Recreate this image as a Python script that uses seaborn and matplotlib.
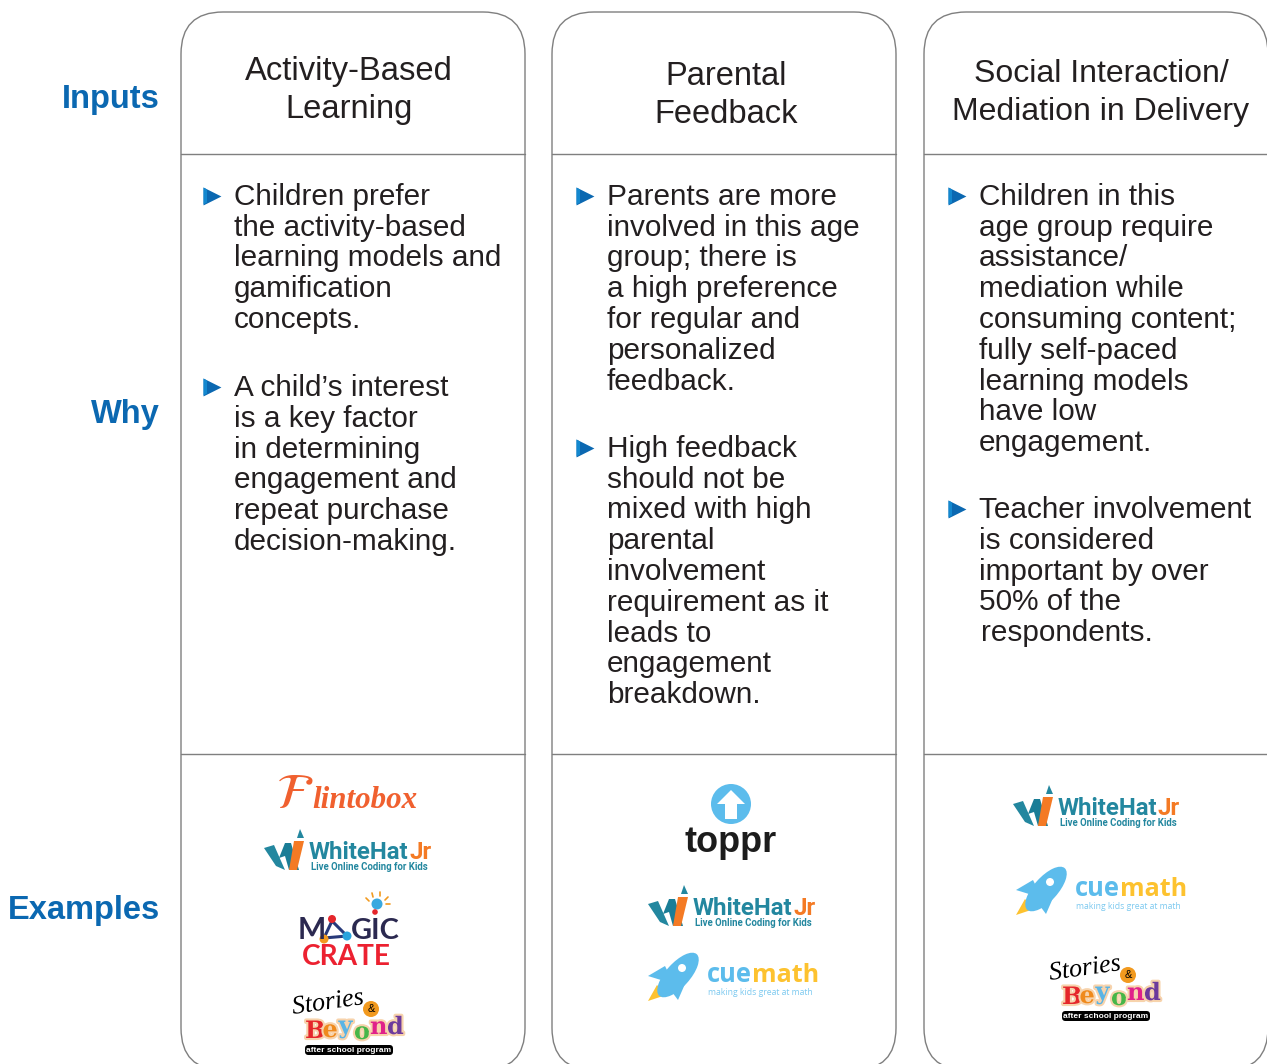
import matplotlib
matplotlib.use('Agg')
import matplotlib.pyplot as plt
import matplotlib.patheffects as pe
from matplotlib.patches import FancyBboxPatch, Polygon, Circle, Ellipse
import pandas as pd
import seaborn as sns

sns.set_theme(style='white')
plt.rcParams['font.family'] = ['Liberation Sans', 'DejaVu Sans']

#Text of the slide
row_labels = ['Inputs', 'Why', 'Examples']
row_label_y = [96, 411, 907]

titles = [['Activity-Based', 'Learning'],
          ['Parental', 'Feedback'],
          ['Social Interaction/', 'Mediation in Delivery']]
title_x = [349, 726, 1101]
title_y = [68, 73, 70]
title_size = [32.8, 32.6, 32]

col1_a = ['Children prefer', 'the activity-based', 'learning models and', 'gamification', 'concepts.']
col1_b = ['A child\u2019s interest', 'is a key factor', 'in determining', 'engagement and', 'repeat purchase', 'decision-making.']
col2_a = ['Parents are more', 'involved in this age', 'group; there is', 'a high preference', 'for regular and', 'personalized', 'feedback.']
col2_b = ['High feedback', 'should not be', 'mixed with high', 'parental', 'involvement', 'requirement as it', 'leads to', 'engagement', 'breakdown.']
col3_a = ['Children in this', 'age group require', 'assistance/', 'mediation while', 'consuming content;', 'fully self-paced', 'learning models', 'have low', 'engagement.']
col3_b = ['Teacher involvement', 'is considered', 'important by over', '50% of the', 'respondents.']

blocks = [col1_a, col1_b, col2_a, col2_b, col3_a, col3_b]
block_x = [234, 234, 607, 607, 979, 979]
block_y = [205, 396, 205, 457, 205, 518]
bullet_x = [212, 212, 585, 585, 957, 957]

panel_x = [181, 552, 924]
BLUE = '#0b68b1'
GREY = '#7f7f7f'
INK = '#231f20'
TEAL = '#23879f'
ORANGE = '#f47a24'
SKY = '#5cbcec'
GOLD = '#fdc22f'

fig = plt.figure(figsize=(12.67, 10.64), dpi=100)
ax = fig.add_axes([0, 0, 1, 1])
ax.set_xlim(0, 1267)
ax.set_ylim(1064, 0)
ax.axis('off')


def px(size):
    return size * 72 / 100


#Panels
for x in panel_x:
    ax.add_patch(FancyBboxPatch((x + 42, 54), 344 - 84, 1070 - 54 - 42, boxstyle='round,pad=42,rounding_size=42',
                                fc='white', ec=GREY, lw=1.0, mutation_aspect=1))
    ax.plot([x, x + 344], [154, 154], color=GREY, lw=1.0)
    ax.plot([x, x + 344], [754, 754], color=GREY, lw=1.0)

#Row labels
for lab, y in zip(row_labels, row_label_y):
    ax.text(160, y, lab, ha='right', va='center_baseline', color=BLUE, fontsize=px(32.7), fontweight='bold')

#Column titles
for lines, x, y, size in zip(titles, title_x, title_y, title_size):
    for i, line in enumerate(lines):
        ax.text(x, y + i * 38.2, line, ha='center', va='center_baseline', color=INK, fontsize=px(size))

#Body text
for lines, x, y in zip(blocks, block_x, block_y):
    for i, line in enumerate(lines):
        ax.text(x + (2 if line == 'respondents.' else 0), y + i * 30.75, line, ha='left', va='baseline',
                color=INK, fontsize=px(29.7))

#Bullets
bullets = pd.DataFrame({'x': bullet_x, 'y': [y - 9 for y in block_y]})
sns.scatterplot(data=bullets, x='x', y='y', marker='>', s=165, color=BLUE, linewidth=0, ax=ax, legend=False)
for x, y in zip(bullet_x, bullets['y']):
    ax.add_patch(Polygon([(x - 8.5, y - 8.5), (x - 5, y - 6.5), (x - 5, y + 6.5), (x - 8.5, y + 8.5)], fc='#1388cf', ec='none', zorder=5))


def whitehat(dx, dy):
    def shape(pts, color):
        ax.add_patch(Polygon([(a + dx, b + dy) for a, b in pts], fc=color, ec='none'))
    shape([(264, 848), (274, 845), (285, 870), (276, 866)], TEAL)
    shape([(279, 858), (285, 843), (291, 843), (299, 870), (289, 870), (285, 856)], '#1a7d96')
    shape([(289, 870), (297, 870), (304, 841), (294, 841)], ORANGE)
    shape([(297, 838), (300, 829), (304, 838)], TEAL)
    ax.text(309 + dx, 859 + dy, 'WhiteHat', color=TEAL, fontsize=px(24), fontweight='bold', fontfamily='Roboto')
    ax.text(409 + dx, 859 + dy, 'Jr', color=ORANGE, fontsize=px(24), fontweight='bold', fontfamily='Roboto')
    ax.text(311 + dx, 870 + dy, 'Live Online Coding for Kids', color=TEAL, fontsize=px(9.6), fontweight='bold', fontfamily='Roboto')


def cuemath(dx, dy):
    ax.add_patch(Polygon([(648 + dx, 1001 + dy), (657 + dx, 985 + dy), (666 + dx, 995 + dy)], fc=GOLD, ec='none'))
    ax.add_patch(Polygon([(648 + dx, 976 + dy), (665 + dx, 966 + dy), (674 + dx, 984 + dy)], fc=SKY, ec='none'))
    ax.add_patch(Polygon([(678 + dx, 1000 + dy), (685 + dx, 984 + dy), (666 + dx, 984 + dy)], fc=SKY, ec='none'))
    ax.add_patch(Ellipse((678 + dx, 975 + dy), 56, 24, angle=-48, fc=SKY, ec='none'))
    ax.add_patch(Circle((682 + dx, 968 + dy), 4, fc='white', ec='none'))
    ax.text(707 + dx, 982 + dy, 'cue', color=SKY, fontsize=px(25.5), fontweight='bold', fontfamily='Open Sans')
    ax.text(752 + dx, 982 + dy, 'math', color=GOLD, fontsize=px(25), fontweight='bold', fontfamily='Open Sans')
    ax.text(708 + dx, 995 + dy, 'making kids great at math', color=SKY, fontsize=px(8.7), alpha=0.8, fontfamily='Open Sans')


def stories(dx, dy):
    halo = [pe.withStroke(linewidth=3, foreground='#f7d3ac')]
    ax.text(293 + dx, 1014 + dy, 'Stories', color='black', fontsize=px(26), style='italic', rotation=8,
            rotation_mode='anchor', fontfamily='Liberation Serif', path_effects=[pe.withStroke(linewidth=2.5, foreground='white')])
    ax.add_patch(Circle((371 + dx, 1009 + dy), 8, fc='#f29a1f', ec='none'))
    ax.text(371 + dx, 1009 + dy, '&', color='black', fontsize=px(11), ha='center', va='center')
    for ch, x, y, col in zip('Beyond', [305, 322.5, 338.5, 354, 370, 387], [1038, 1037, 1033, 1039, 1034, 1034],
                             ['#e5262b', '#ef8a1d', '#5ab4e5', '#47b649', '#e0218a', '#6d3a9c']):
        ax.text(x + dx, y + dy, ch, color=col, fontsize=px(24), fontweight='bold', fontfamily='DejaVu Serif', path_effects=halo)
    ax.add_patch(FancyBboxPatch((308 + dx, 1048 + dy), 82, 4, boxstyle='round,pad=3,rounding_size=3.5', fc='black', ec='none'))
    ax.text(349 + dx, 1050.3 + dy, 'after school program', color='white', fontsize=px(8.4), fontweight='bold', ha='center', va='center')


def magic():
    navy = '#2b2950'
    ax.text(298, 939, 'M', color=navy, fontsize=px(30), fontweight='bold', fontfamily='Lato')
    ax.text(351, 939, 'GIC', color=navy, fontsize=px(29), fontfamily='Lato', fontweight='bold')
    ax.add_patch(Polygon([(332, 921), (324, 938), (347, 936)], fc='none', ec='#27397a', lw=2.2))
    ax.add_patch(Circle((332, 919), 4, fc='#e5262b', ec='none'))
    ax.add_patch(Circle((324, 939), 4.5, fc='#f29a1f', ec='none'))
    ax.add_patch(Circle((347, 936), 4.5, fc='#29a3dc', ec='none'))
    ax.add_patch(Circle((377, 904), 5.5, fc='#39a9e0', ec='none'))
    ax.add_patch(Circle((375, 912), 2.8, fc='#e5262b', ec='none'))
    for a, b, c, d in [(366, 898, 369, 901), (372, 893, 373, 897), (380, 892, 380, 896), (388, 897, 385, 900), (390, 904, 386, 904)]:
        ax.plot([a, c], [b, d], color='#f29a1f', lw=1.2)
    ax.text(346.5, 965, 'CRATE', color='#ec2130', fontsize=px(28), fontweight='bold', ha='center', fontfamily='Lato')


#Logos column 1
ax.text(276, 808, r'$\mathcal{F}$', color='#f0602f', fontsize=px(50), math_fontfamily='stix')
ax.text(312, 808, 'lintobox', color='#f0602f', fontsize=px(31), style='italic', fontweight='bold', fontfamily='Liberation Serif')
whitehat(0, 0)
magic()
stories(0, 0)

#Logos column 2
ax.add_patch(Circle((731, 804), 20, fc=SKY, ec='none'))
ax.add_patch(Polygon([(731, 790), (745, 804), (737, 804), (737, 819), (725, 819), (725, 804), (717, 804)], fc='white', ec='none'))
ax.text(731, 852, 'toppr', color='#1c1c1c', fontsize=px(36), fontweight='bold', ha='center')
whitehat(384, 56)
cuemath(0, 0)

#Logos column 3
whitehat(749, -44)
cuemath(368, -86)
stories(757, -34)

fig.savefig('out.png', dpi=100)
